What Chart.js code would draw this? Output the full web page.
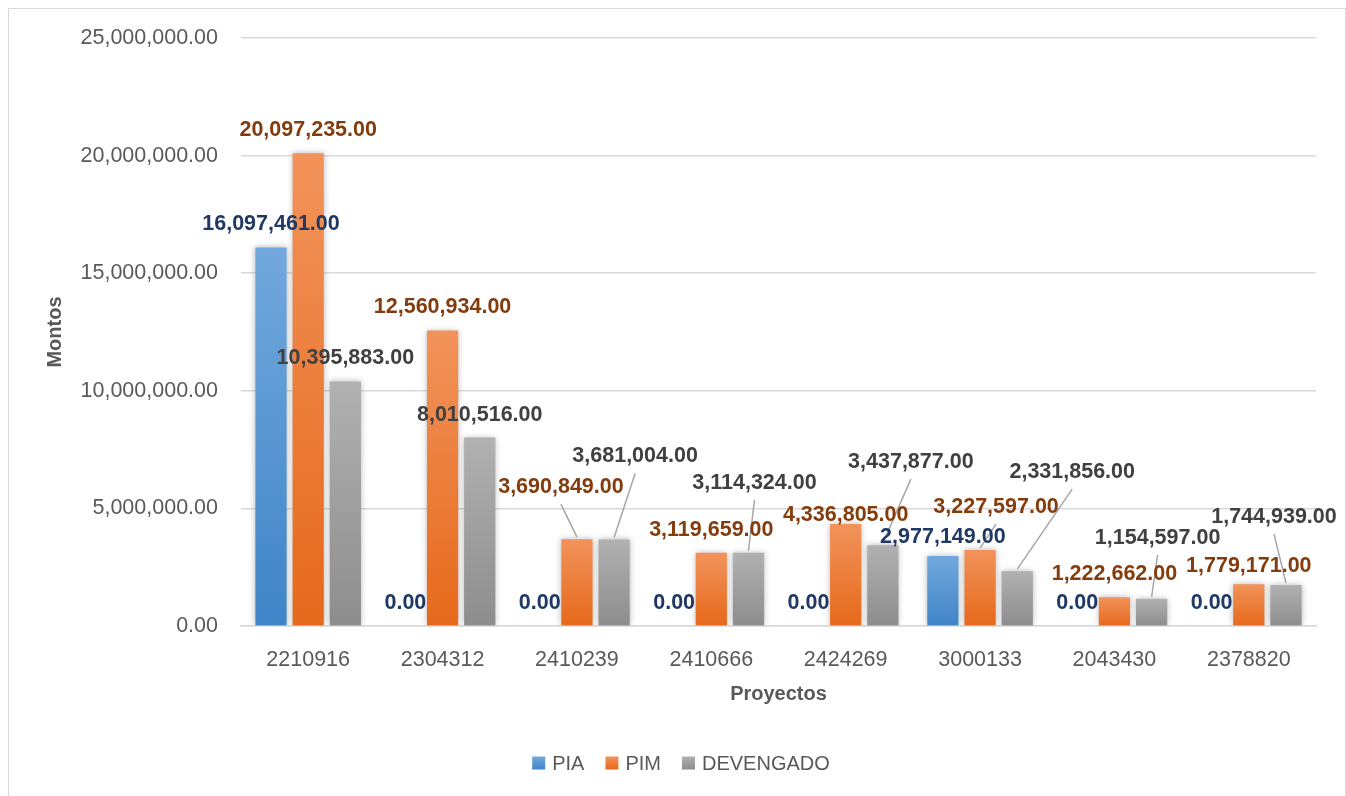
<!DOCTYPE html>
<html>
<head>
<meta charset="utf-8">
<script src="https://cdn.jsdelivr.net/npm/chart.js@4/dist/chart.umd.min.js"></script>
<style>
  html, body { margin: 0; padding: 0; background: #ffffff; }
  #wrap { position: relative; width: 1346px; height: 796px; overflow: hidden; }
  #frame { position: absolute; left: 8px; top: 8px; width: 1338px; height: 800px; border: 1.5px solid #D9D9D9; box-sizing: border-box; }
  canvas { position: absolute; left: 0; top: 0; }
</style>
</head>
<body>
<div id="wrap">
  <div id="frame"></div>
  <canvas id="c" width="1346" height="796"></canvas>
</div>
<script>
// ---- data ----
const categories = ['2210916', '2304312', '2410239', '2410666', '2424269', '3000133', '2043430', '2378820'];
const piaValues = [16097461, 0, 0, 0, 0, 2977149, 0, 0];
const pimValues = [20097235, 12560934, 3690849, 3119659, 4336805, 3227597, 1222662, 1779171];
const devengadoValues = [10395883, 8010516, 3681004, 3114324, 3437877, 2331856, 1154597, 1744939];
const seriesNames = ['PIA', 'PIM', 'DEVENGADO'];
const yTicks = [0, 5000000, 10000000, 15000000, 20000000, 25000000];

// ---- styling ----
const FONT = '"Liberation Sans", Arial, sans-serif';
const styles = [
  { top: '#72A8DD', bottom: '#3F85C7', label: '#1F3864' },
  { top: '#F2935B', bottom: '#E6691B', label: '#843C0C' },
  { top: '#B1B1B1', bottom: '#8D8D8D', label: '#404040' }
];
// label offsets (px) relative to default position above each bar; leader = draw connector
const labelLayout = [
  [{},{},{},{},{},{dy:4},{},{}],
  [{},{},{dx:-16,dy:-29,leader:true},{},{dy:14},{dx:16,dy:-20,leader:true},{},{dy:5}],
  [{},{},{dx:21,dy:-60,leader:true},{dx:6,dy:-47,leader:true},{dx:28,dy:-60,leader:true},{dx:55,dy:-76,leader:true},{dx:6,dy:-38,leader:true},{dx:-12,dy:-45,leader:true}]
];

function fmt(v) {
  return Number(v).toLocaleString('en-US', { minimumFractionDigits: 2, maximumFractionDigits: 2 });
}

function gradientFor(i) {
  return function (ctx) {
    const st = styles[i];
    const chart = ctx.chart;
    if (ctx.type !== 'data' || !chart.chartArea) return st.bottom;
    const y = chart.scales.y;
    const yTop = y.getPixelForValue(ctx.raw);
    const yBot = y.getPixelForValue(0);
    if (yBot - yTop < 1) return st.bottom;
    const g = chart.ctx.createLinearGradient(0, yTop, 0, yBot);
    g.addColorStop(0, st.top);
    g.addColorStop(1, st.bottom);
    return g;
  };
}

const shadowPlugin = {
  id: 'barShadow',
  beforeDatasetsDraw(chart) {
    const ctx = chart.ctx;
    ctx.save();
    ctx.shadowColor = 'rgba(0,0,0,0.28)';
    ctx.shadowBlur = 6;
    ctx.shadowOffsetX = 0;
    ctx.shadowOffsetY = 0;
  },
  afterDatasetsDraw(chart) {
    chart.ctx.restore();
  }
};

const labelPlugin = {
  id: 'dataLabels',
  afterDatasetsDraw(chart) {
    const ctx = chart.ctx;
    ctx.save();
    ctx.shadowColor = 'transparent';
    ctx.font = 'bold 21.5px ' + FONT;
    ctx.textAlign = 'center';
    ctx.textBaseline = 'middle';
    const items = [];
    chart.data.datasets.forEach((ds, di) => {
      const meta = chart.getDatasetMeta(di);
      meta.data.forEach((el, idx) => {
        const lay = labelLayout[di][idx] || {};
        const lx = el.x + (lay.dx || 0);
        const ly = el.y - 23 + (lay.dy || 0);
        items.push({ lx, ly, el, lay, text: fmt(ds.data[idx]), color: styles[di].label });
      });
    });
    ctx.strokeStyle = '#A6A6A6';
    ctx.lineWidth = 1.5;
    items.forEach(it => {
      if (it.lay.leader) {
        ctx.beginPath();
        ctx.moveTo(it.lx, it.ly + 17);
        ctx.lineTo(it.el.x, it.el.y - 2);
        ctx.stroke();
      }
    });
    items.forEach(it => {
      ctx.fillStyle = it.color;
      ctx.fillText(it.text, it.lx, it.ly);
    });
    ctx.restore();
  }
};

const legendPlugin = {
  id: 'customLegend',
  afterDraw(chart) {
    const ctx = chart.ctx;
    ctx.save();
    ctx.font = '20px ' + FONT;
    ctx.textBaseline = 'middle';
    ctx.textAlign = 'left';
    const box = 13, gapText = 7, gapItem = 21;
    const widths = chart.data.datasets.map(ds => box + gapText + ctx.measureText(ds.label).width);
    const total = widths.reduce((a, b) => a + b, 0) + gapItem * (widths.length - 1);
    let x = 681 - total / 2;
    const y = 763;
    chart.data.datasets.forEach((ds, i) => {
      const g = ctx.createLinearGradient(0, y - box / 2, 0, y + box / 2);
      g.addColorStop(0, styles[i].top);
      g.addColorStop(1, styles[i].bottom);
      ctx.fillStyle = g;
      ctx.fillRect(x, y - box / 2, box, box);
      ctx.fillStyle = '#595959';
      ctx.fillText(ds.label, x + box + gapText, y + 1);
      x += widths[i] + gapItem;
    });
    ctx.restore();
  }
};

const seriesData = [piaValues, pimValues, devengadoValues];

new Chart(document.getElementById('c'), {
  type: 'bar',
  data: {
    labels: categories,
    datasets: seriesNames.map((name, i) => ({
      label: name,
      data: seriesData[i],
      backgroundColor: gradientFor(i),
      borderWidth: 0,
      categoryPercentage: 0.83,
      barPercentage: 0.84
    }))
  },
  options: {
    responsive: false,
    animation: false,
    devicePixelRatio: 1,
    layout: { padding: { top: 38, right: 30, left: 0, bottom: 0 } },
    plugins: {
      legend: { display: false },
      tooltip: { enabled: false },
      title: { display: false }
    },
    scales: {
      x: {
        type: 'category',
        grid: { display: false },
        border: { display: true, color: '#D9D9D9', width: 1.5 },
        ticks: { color: '#595959', font: { family: FONT, size: 21.5 }, padding: 13, maxRotation: 0 },
        title: { display: true, text: 'Proyectos', color: '#595959', font: { family: FONT, size: 20, weight: 'bold' }, padding: { top: 0, bottom: 90 } },
        afterFit(scale) { scale.height = 170; }
      },
      y: {
        min: 0,
        max: 25000000,
        afterBuildTicks(scale) { scale.ticks = yTicks.map(v => ({ value: v })); },
        grid: { color: '#D9D9D9', lineWidth: 1.5, drawTicks: false },
        border: { display: false },
        ticks: { color: '#595959', font: { family: FONT, size: 21.5 }, padding: 23, callback: v => fmt(v) },
        title: { display: true, text: 'Montos', color: '#595959', font: { family: FONT, size: 20, weight: 'bold' }, padding: { top: 43, bottom: 0 } },
        afterFit(scale) { scale.width = 241; }
      }
    }
  },
  plugins: [shadowPlugin, labelPlugin, legendPlugin]
});
</script>
</body>
</html>
